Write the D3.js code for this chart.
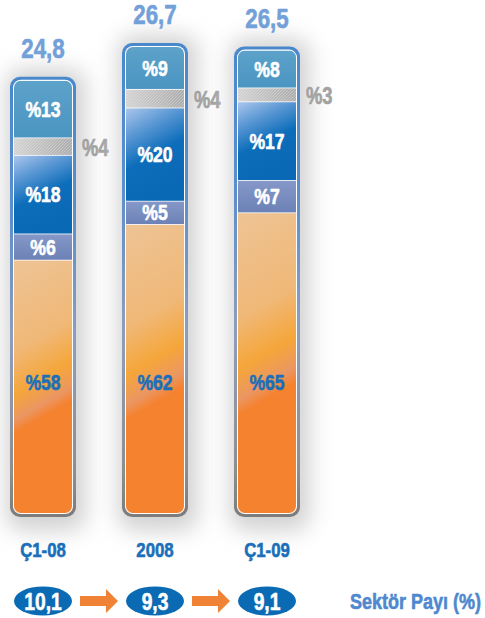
<!DOCTYPE html>
<html>
<head>
<meta charset="utf-8">
<script src="https://cdn.jsdelivr.net/npm/d3@7"></script>
<style>
  html, body { margin: 0; padding: 0; background: #fff; }
  svg { display: block; }
  text { font-family: 'Liberation Sans', Arial, sans-serif; font-weight: bold; stroke-width: 0.6px; stroke-linejoin: round; }
</style>
</head>
<body>
<div id="chart"></div>
<script>
  // values
  var categories = ['Ç1-08', '2008', 'Ç1-09'];
  var totals = [24.8, 26.7, 26.5];
  var topShare = [13, 9, 8];
  var greyShare = [4, 4, 3];
  var blueShare = [18, 20, 17];
  var slateShare = [6, 5, 7];
  var orangeShare = [58, 62, 65];
  var sectorShare = [10.1, 9.3, 9.1];
  var sectorLabel = 'Sektör Payı (%)';

  var width = 485,
    height = 618,
    base = 517,
    barWidth = 66,
    frame = 4,
    squeeze = 0.8;   // condensed look

  var tr = d3.formatLocale({decimal: ',', thousands: '.', grouping: [3], currency: ['', '']});
  var fmt = tr.format('.1f');

  var svg = d3.select('#chart').append('svg')
    .attr('width', width)
    .attr('height', height);
  var defs = svg.append('defs');

  var x = d3.scalePoint().domain(categories).range([43, 267]);
  var h = d3.scaleLinear().domain([0, d3.max(totals)]).range([0, 474]);

  function at(px, py) {
    return 'translate(' + px + ',' + py + ') scale(' + squeeze + ',1)';
  }

  // gradients
  function grad(id, x1, y1, x2, y2, stops) {
    var g = defs.append('linearGradient').attr('id', id)
      .attr('x1', x1).attr('y1', y1).attr('x2', x2).attr('y2', y2);
    stops.forEach(function(s) {
      g.append('stop').attr('offset', s[0]).attr('stop-color', s[1]);
    });
  }
  grad('frameGrad', 0, 0, 0, 1, [[0, '#4a88cc'], [0.3, '#5b8ecc'], [0.6, '#8c9ebf'], [0.9, '#8e8e8e'], [1, '#7c7c7c']]);
  grad('topGrad', 0, 0, 0, 1, [[0, '#5ca2ca'], [1, '#4b95c2']]);
  grad('greyGrad', 0, 0, 1, 0, [[0, '#d2d2d2'], [1, '#acacac']]);
  grad('blueGrad', 0, 0, 0.35, 1, [[0, '#aac6ec'], [0.3, '#5896d3'], [0.6, '#0c6dba'], [1, '#0a69b4']]);
  grad('slateGrad', 0, 0, 0, 1, [[0, '#8598c8'], [1, '#6c81b6']]);

  var shadow = defs.append('filter').attr('id', 'shadow')
    .attr('x', '-60%').attr('y', '-20%').attr('width', '220%').attr('height', '140%');
  shadow.append('feGaussianBlur').attr('stdDeviation', 11);

  var hatch = defs.append('pattern').attr('id', 'hatch')
    .attr('patternUnits', 'userSpaceOnUse').attr('width', 3).attr('height', 3);
  hatch.append('path').attr('d', 'M0,3 L3,0').attr('stroke', '#fff').attr('stroke-width', 0.8).attr('opacity', 0.35);

  var bars = categories.map(function(c, i) {
    var shares = [topShare[i], greyShare[i], blueShare[i], slateShare[i], orangeShare[i]];
    var top = base - h(totals[i]);
    var cx = x(c);
    var inner = d3.scaleLinear().domain([0, d3.sum(shares)]).range([top + frame, base - frame]);
    var acc = 0;
    var segs = shares.map(function(v, k) {
      var s = {key: k, value: v, y0: inner(acc), y1: inner(acc + v)};
      acc += v;
      return s;
    });
    return {cat: c, i: i, cx: cx, top: top, total: totals[i], segs: segs};
  });

  // orange gradient per bar, tilted
  bars.forEach(function(b) {
    var s = b.segs[4], hh = s.y1 - s.y0;
    var cy = s.y0 + 0.62 * hh, L = 0.55 * hh;
    var g = defs.append('linearGradient').attr('id', 'orangeGrad' + b.i)
      .attr('gradientUnits', 'userSpaceOnUse')
      .attr('x1', b.cx - L * 0.5).attr('y1', cy - L * 0.866)
      .attr('x2', b.cx + L * 0.5).attr('y2', cy + L * 0.866);
    [[0, '#eec291'], [0.25, '#f0b877'], [0.38, '#f5a63a'], [0.46, '#eb9662'], [0.5, '#f5822f'], [1, '#f5822f']]
      .forEach(function(st) { g.append('stop').attr('offset', st[0]).attr('stop-color', st[1]); });
    defs.append('clipPath').attr('id', 'clip' + b.i)
      .append('rect')
      .attr('x', b.cx - barWidth / 2 + frame).attr('y', b.top + frame)
      .attr('width', barWidth - 2 * frame).attr('height', base - b.top - 2 * frame)
      .attr('rx', 7);
  });

  var fills = ['url(#topGrad)', 'url(#greyGrad)', 'url(#blueGrad)', 'url(#slateGrad)'];

  var g = svg.selectAll('g.bar').data(bars).enter().append('g').attr('class', 'bar');

  g.append('rect')
    .attr('x', function(d) { return d.cx - barWidth / 2 - 4; })
    .attr('y', function(d) { return d.top - 8; })
    .attr('width', barWidth + 14)
    .attr('height', function(d) { return base - d.top + 22; })
    .attr('rx', 16)
    .attr('fill', '#d2d2d2')
    .attr('filter', 'url(#shadow)');

  g.append('rect')
    .attr('x', function(d) { return d.cx - barWidth / 2; })
    .attr('y', function(d) { return d.top; })
    .attr('width', barWidth)
    .attr('height', function(d) { return base - d.top; })
    .attr('rx', 10)
    .attr('fill', 'url(#frameGrad)');

  g.append('rect')
    .attr('x', function(d) { return d.cx - barWidth / 2 + frame - 1; })
    .attr('y', function(d) { return d.top + frame - 1; })
    .attr('width', barWidth - 2 * frame + 2)
    .attr('height', function(d) { return base - d.top - 2 * frame + 2; })
    .attr('rx', 8)
    .attr('fill', '#fff');

  var segG = g.append('g').attr('clip-path', function(d) { return 'url(#clip' + d.i + ')'; });

  segG.selectAll('rect.seg')
    .data(function(d) { return d.segs.map(function(s) { return {s: s, b: d}; }); })
    .enter().append('rect')
    .attr('class', 'seg')
    .attr('x', function(d) { return d.b.cx - barWidth / 2 + frame; })
    .attr('y', function(d) { return d.s.y0 + (d.s.key ? 0.8 : 0); })
    .attr('width', barWidth - 2 * frame)
    .attr('height', function(d) { return d.s.y1 - d.s.y0 - (d.s.key ? 0.8 : 0); })
    .attr('fill', function(d) { return d.s.key === 4 ? 'url(#orangeGrad' + d.b.i + ')' : fills[d.s.key]; });

  // texture on the grey band
  segG.selectAll('rect.tex')
    .data(function(d) { return [{s: d.segs[1], b: d}]; })
    .enter().append('rect')
    .attr('class', 'tex')
    .attr('x', function(d) { return d.b.cx - barWidth / 2 + frame; })
    .attr('y', function(d) { return d.s.y0 + 0.8; })
    .attr('width', barWidth - 2 * frame)
    .attr('height', function(d) { return d.s.y1 - d.s.y0 - 0.8; })
    .attr('fill', 'url(#hatch)');

  // labels inside segments
  g.selectAll('text.seg')
    .data(function(d) { return d.segs.filter(function(s) { return s.key !== 1; }).map(function(s) { return {s: s, b: d}; }); })
    .enter().append('text')
    .attr('class', 'seg')
    .attr('transform', function(d) {
      var yy = d.s.key === 4 ? base - frame - 131 : (d.s.y0 + d.s.y1) / 2;
      return at(d.b.cx, yy + 8);
    })
    .attr('text-anchor', 'middle')
    .attr('font-size', 22)
    .attr('fill', function(d) { return d.s.key === 4 ? '#1a6fba' : '#fff'; })
    .attr('stroke', function(d) { return d.s.key === 4 ? '#1a6fba' : '#fff'; })
    .text(function(d) { return '%' + d.s.value; });

  // grey share outside
  g.append('text')
    .attr('transform', function(d) { return at(d.cx + barWidth / 2 + 6, (d.segs[1].y0 + d.segs[1].y1) / 2 + 10); })
    .attr('font-size', 23)
    .attr('fill', '#a2a2a2')
    .attr('stroke', '#a2a2a2')
    .text(function(d) { return '%' + d.segs[1].value; });

  // totals
  g.append('text')
    .attr('transform', function(d) { return at(d.cx, d.top - 19); })
    .attr('text-anchor', 'middle')
    .attr('font-size', 28)
    .attr('fill', '#72a0d8')
    .attr('stroke', '#72a0d8')
    .text(function(d) { return fmt(d.total); });

  // category labels
  svg.selectAll('text.cat').data(categories).enter().append('text')
    .attr('class', 'cat')
    .attr('transform', function(d) { return at(x(d), 557); })
    .attr('text-anchor', 'middle')
    .attr('font-size', 21)
    .attr('fill', '#1a6fba')
    .attr('stroke', '#1a6fba')
    .text(function(d) { return d; });

  // sector share row
  var row = 601;
  svg.selectAll('ellipse.share').data(sectorShare).enter().append('ellipse')
    .attr('class', 'share')
    .attr('cx', function(d, i) { return x(categories[i]); })
    .attr('cy', row)
    .attr('rx', 29)
    .attr('ry', 14.5)
    .attr('fill', '#0a6ab4');

  svg.selectAll('text.share').data(sectorShare).enter().append('text')
    .attr('class', 'share')
    .attr('transform', function(d, i) { return at(x(categories[i]), row + 8.5); })
    .attr('text-anchor', 'middle')
    .attr('font-size', 24)
    .attr('fill', '#fff')
    .attr('stroke', '#fff')
    .text(function(d) { return fmt(d); });

  svg.selectAll('path.arrow').data(d3.pairs(categories)).enter().append('path')
    .attr('class', 'arrow')
    .attr('d', function(p) {
      var a = x(p[0]) + 37, b = x(p[1]) - 37;
      return 'M' + a + ',' + (row - 5) + 'H' + (b - 12) + 'V' + (row - 12) +
        'L' + b + ',' + row + 'L' + (b - 12) + ',' + (row + 12) + 'V' + (row + 5) + 'H' + a + 'Z';
    })
    .attr('fill', '#f08236');

  svg.append('text')
    .attr('transform', at(481, row + 8))
    .attr('text-anchor', 'end')
    .attr('font-size', 22.5)
    .attr('fill', '#4f88cf')
    .attr('stroke', '#4f88cf')
    .text(sectorLabel);
</script>
</body>
</html>
